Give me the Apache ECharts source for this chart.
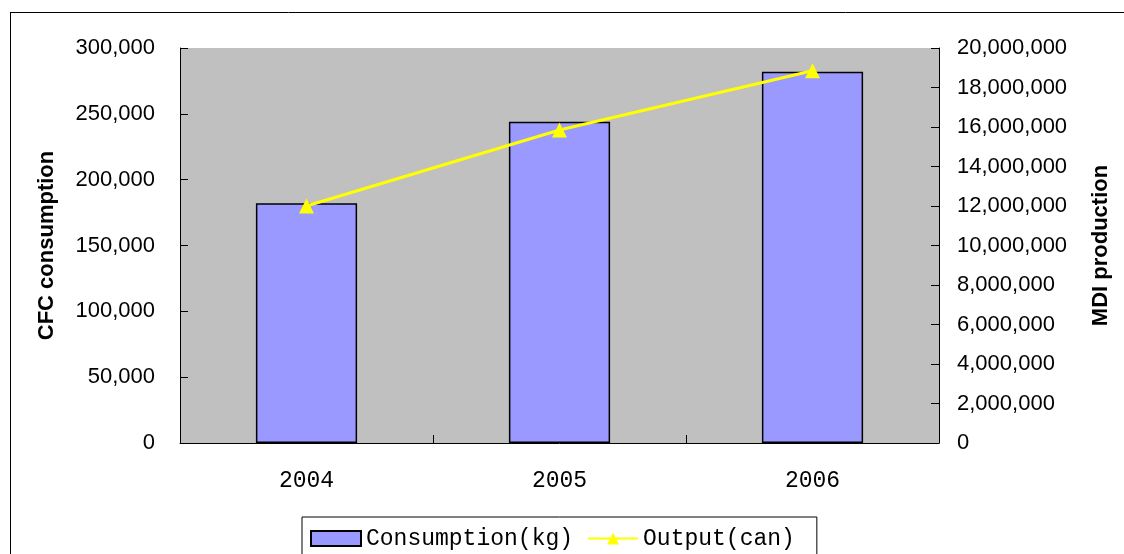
<!DOCTYPE html>
<html>
<head>
<meta charset="utf-8">
<script src="https://cdn.jsdelivr.net/npm/echarts@6/dist/echarts.min.js"></script>
<style>
html,body{margin:0;padding:0;background:#fff;}
#chart{width:1124px;height:554px;}
</style>
</head>
<body>
<div id="chart"></div>
<script>
const years = ['2004', '2005', '2006'];
const consumption = [182000, 244000, 282000];
const output = [12000000, 15850000, 18850000];

const chart = echarts.init(document.getElementById('chart'));
const axisFont = 'Liberation Sans, Arial, sans-serif';
const cjkFont = '"Liberation Mono", "Courier New", monospace';
const fmt = v => v.toLocaleString('en-US');

chart.setOption({
  animation: false,
  backgroundColor: '#fff',
  graphic: [
    { type: 'line', shape: { x1: 10, y1: 12.5, x2: 1124, y2: 12.5 }, style: { stroke: '#000', lineWidth: 1 } },
    { type: 'line', shape: { x1: 10.5, y1: 12, x2: 10.5, y2: 554 }, style: { stroke: '#000', lineWidth: 1 } }
  ],
  grid: {
    left: 180, right: 185, top: 48, bottom: 111,
    show: true, backgroundColor: '#C0C0C0', borderWidth: 0
  },
  legend: {
    left: 302, top: 517,
    padding: [10, 22, 7, 8],
    itemGap: 14,
    itemWidth: 50, itemHeight: 15,
    borderColor: '#000', borderWidth: 1,
    textStyle: { fontFamily: cjkFont, fontSize: 23, color: '#000' },
    data: [
      { name: 'Consumption(kg)', icon: 'rect' },
      { name: 'Output(can)' }
    ]
  },
  xAxis: {
    type: 'category',
    data: years,
    axisLine: { show: true, lineStyle: { color: '#000', width: 1 } },
    axisTick: { show: true, inside: true, length: 8, lineStyle: { color: '#000' } },
    axisLabel: { fontFamily: cjkFont, fontSize: 23, color: '#000', margin: 26 },
    splitLine: { show: false }
  },
  yAxis: [
    {
      type: 'value', min: 0, max: 300000, interval: 50000,
      name: 'CFC consumption', nameLocation: 'middle', nameRotate: 90, nameGap: 122,
      nameTextStyle: { fontFamily: axisFont, fontSize: 22, fontWeight: 'bold', color: '#000' },
      axisLine: { show: true, lineStyle: { color: '#000', width: 1 } },
      axisTick: { show: true, inside: true, length: 8, lineStyle: { color: '#000' } },
      axisLabel: { fontFamily: axisFont, fontSize: 22, color: '#000', margin: 25, formatter: fmt },
      splitLine: { show: false }
    },
    {
      type: 'value', min: 0, max: 20000000, interval: 2000000,
      name: 'MDI production', nameLocation: 'middle', nameRotate: 90, nameGap: 151,
      nameTextStyle: { fontFamily: axisFont, fontSize: 22, fontWeight: 'bold', color: '#000' },
      axisLine: { show: true, lineStyle: { color: '#000', width: 1 } },
      axisTick: { show: true, inside: true, length: 8, lineStyle: { color: '#000' } },
      axisLabel: { fontFamily: axisFont, fontSize: 22, color: '#000', margin: 18, formatter: fmt },
      splitLine: { show: false }
    }
  ],
  series: [
    {
      name: 'Consumption(kg)', type: 'bar', yAxisIndex: 0,
      data: consumption, barWidth: '40%',
      itemStyle: { color: '#9999FF', borderColor: '#000', borderWidth: 1.5 }
    },
    {
      name: 'Output(can)', type: 'line', yAxisIndex: 1,
      data: output,
      symbol: 'triangle', symbolSize: 15,
      lineStyle: { color: '#FFFF00', width: 3 },
      itemStyle: { color: '#FFFF00' }
    }
  ]
});
</script>
</body>
</html>
